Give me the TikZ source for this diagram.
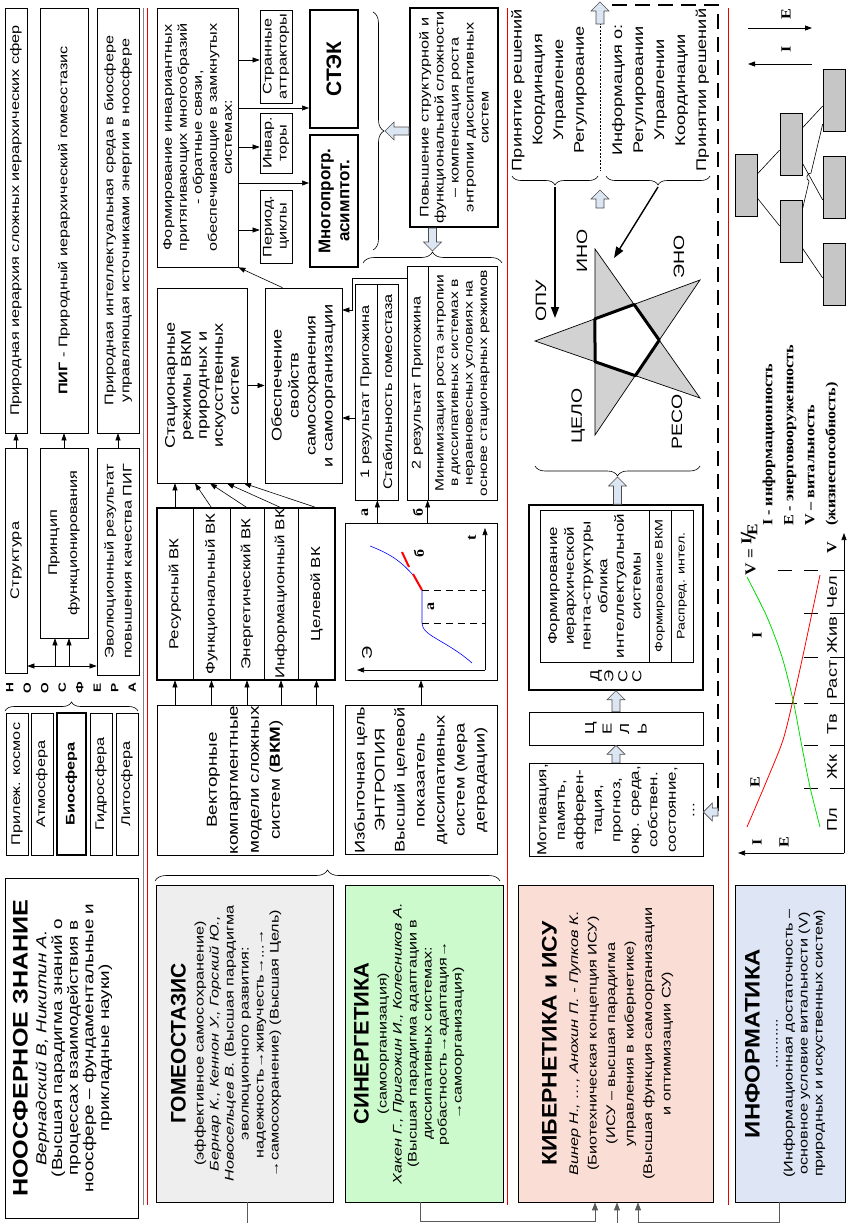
\documentclass[tikz,border=0pt]{standalone}
\usepackage{graphicx}
\usepackage{fontspec}
\setmainfont{Liberation Sans}[FakeStretch=1.3]
\newfontfamily\headfont{Liberation Sans}
\newfontfamily\timesb{Liberation Serif}[FakeStretch=1.15]
\usetikzlibrary{arrows.meta,calc,decorations.pathreplacing}
\definecolor{redline}{RGB}{235,0,0}
\definecolor{gomeofill}{RGB}{238,238,238}
\definecolor{sinfill}{RGB}{204,250,204}
\definecolor{kibfill}{RGB}{250,222,214}
\definecolor{inffill}{RGB}{222,230,245}
\definecolor{hollowfill}{RGB}{220,230,242}
\definecolor{linkgray}{RGB}{90,90,90}
\definecolor{curvegreen}{RGB}{0,220,0}
\newcommand\tbox[3]{\parbox[c][#1][t]{#2}{\centering #3}}
\newcommand\hd[2][1]{{\headfont\bfseries\fontsize{21}{24}\selectfont\scalebox{#1}[1]{#2}\par}\vspace{3pt}}
\newcommand\hollowarr[2]{%
  \path (#1) coordinate (ha-t) (#2) coordinate (ha-p);
  \path ($(ha-p)!9pt!(ha-t)$) coordinate (ha-h);
  \draw[hollow] ($(ha-t)!4pt!90:(ha-p)$) -- ($(ha-h)!4pt!-90:(ha-t)$)
    -- ($(ha-h)!9pt!-90:(ha-t)$) -- (ha-p) -- ($(ha-h)!9pt!90:(ha-t)$)
    -- ($(ha-h)!4pt!90:(ha-t)$) -- ($(ha-t)!4pt!-90:(ha-p)$) -- cycle;}

\begin{document}
\begin{tikzpicture}[x=1pt, y=-1pt, font=\fontsize{12.5}{15}\selectfont,
  box/.style={draw, rotate=90, align=center, inner sep=1pt, line width=0.7pt},
  bold box/.style={box, line width=2pt},
  sz/.style 2 args={minimum height=#1, minimum width=#2},
  txt/.style={rotate=90, align=center, inner sep=0pt},
  arr/.style={-{Triangle[length=7pt,width=5pt]}, line width=0.6pt},
  arrs/.style={{Triangle[length=7pt,width=5pt]}-{Triangle[length=7pt,width=5pt]}, line width=0.6pt},
  arrb/.style={-{Triangle[length=11pt,width=8pt]}, line width=1.4pt},
  link/.style={draw=linkgray, line width=0.8pt, -{Triangle[length=8pt,width=6pt]}},
  brc/.style={decorate, decoration={brace, amplitude=#1}, line width=0.6pt}, brc/.default=8pt,
  hollow/.style={draw=black!70, fill=hollowfill, line width=0.6pt},
  tb/.style={font=\timesb\bfseries\fontsize{14}{16}\selectfont}]
\useasboundingbox (0,0) rectangle (855,1223);

\node[box, sz={22}{425}] (a1) at (16,220.5) {Природная иерархия сложных иерархических сфер};
\node[box, sz={48}{425}] (a2) at (64,220.5) {\textbf{ПИГ} - Природный иерархический гомеостазис};
\node[box, sz={42}{425}, font=\fontsize{12.5}{16}\selectfont] (a3) at (118,220.5) {Природная интеллектуальная среда в биосфере\\управляющая источниками энергии в ноосфере};
\node[box, sz={22}{225}] (b1) at (16,560.5) {Структура};
\node[box, sz={48}{190}, font=\fontsize{12.5}{20}\selectfont] (b2) at (64,543) {Принцип\\функционирования};
\node[box, sz={42}{227}, font=\fontsize{12.5}{18}\selectfont] (b3) at (118,561.5) {Эволюционный результат\\повышения качества ПИГ};
\foreach \n in {1,2,3} \draw[arr] (b\n.east) -- (a\n.west);
\coordinate (j1) at (55,666); \coordinate (j2) at (69,666);
\draw[arrs] (b1.south |- j1) -- (b3.north |- j1);
\foreach \j in {j1,j2} \draw[arr] (\j) -- (\j |- b2.west);
\node[txt, font=\bfseries\fontsize{10.5}{17.5}\selectfont] (noolbl) at (71,688) {Н\\О\\О\\С\\Ф\\Е\\Р\\А};
\draw[brc=9pt] (5,711) -- (138,711);
\foreach \n/\xa/\xb/\t in {1/6/28/{Прилеж. космос},2/31/53/Атмосфера,4/90/112/Гидросфера,5/116/138/Литосфера}
  \node[box, sz={\xb-\xa}{142}] (s\n) at ({(\xa+\xb)/2},784) {\t};
\node[bold box, sz={29}{142}] (s3) at (71.5,784) {\textbf{Биосфера}};
\node[box, sz={133}{340}] (noos) at (71.5,1048) {\tbox{117pt}{330pt}{\fontsize{14.5}{15.7}\selectfont\hd[1.2]{НООСФЕРНОЕ ЗНАНИЕ}%
  \textit{Вернадский В, Никитин А.}\\(Высшая парадигма знаний о\\процессах взаимодействия в\\ноосфере – фундаментальные и\\прикладные науки)}};

\draw[gray, line width=0.6pt] (143.5,8) -- (143.5,1205);
\foreach \x in {147,507,728} \draw[redline, line width=1pt] (\x,8) -- (\x,1205);

\node[box, sz={81}{259}] (form) at (197.5,137.5) {Формирование инвариантных\\притягивающих многообразий\\- обратные связи,\\обеспечивающие в замкнутых\\системах:};
\node[box, sz={32}{93}] (attr) at (276,56.5) {Странные\\аттракторы};
\node[box, sz={32}{60}] (tory) at (276,143) {Инвар.\\торы};
\node[box, sz={32}{73}] (cycl) at (276,226.5) {Период.\\циклы};
\node[bold box, sz={48}{118}, font=\headfont\bfseries\fontsize{21}{24}\selectfont] (stek) at (334,69) {СТЭК};
\node[bold box, sz={48}{132}, font=\headfont\bfseries\fontsize{17}{19}\selectfont] (asym) at (334,201) {Многопрогр.\\асимптот.};
\foreach \y/\t in {60/attr,108/stek,147/tory,183/asym,230/cycl} \draw[arr] (form.south |- 0,\y) -- (\t.north |- 0,\y);
\draw[brc=11pt] (373,12) -- (373,250);
\coordinate (vtip) at (385,131);
\node[bold box, sz={88}{219}] (povysh) at (454,117.5) {Повышение структурной и\\функциональной сложности\\– компенсация роста\\энтропии диссипативных\\систем};
\hollowarr{povysh.north |- vtip}{vtip}
\draw[brc=11pt] (363,263) -- (502,263);
\coordinate (htip) at (432.5,251);
\hollowarr{povysh.west -| htip}{htip}
\node[box, sz={90}{195}, font=\fontsize{14}{16}\selectfont] (stac) at (202,385.5) {Стационарные\\режимы ВКМ\\природных и\\искусственных\\систем};
\node[box, sz={77}{195}, font=\fontsize{14}{17}\selectfont] (obesp) at (303.5,385.5) {Обеспечение\\свойств\\самосохранения\\и самоорганизации};
\draw[arr] (stac) -- (obesp);
\draw[arr] ([xshift=-21pt]obesp.east) -- (form.south west);
\node[box, sz={22}{216}] (res1a) at (366,392) {1 результат Пригожина};
\node[box, sz={21}{216}] (res1b) at (387.5,392) {Стабильность гомеостаза};
\node[box, sz={21}{234}] (res2a) at (417.5,383) {2 результат Пригожина};
\node[box, sz={69}{234}, font=\fontsize{12}{14.5}\selectfont] (res2b) at (462.5,383) {Минимизация роста энтропии\\в диссипативных системах в\\неравновесных условиях на\\основе стационарных режимов};
\draw[arr] (res1a.north |- 0,418) -- (obesp.south |- 0,418);
\draw[arr] (res2a.north |- 0,278) -| (352,310) -- (obesp.south |- 0,310);
\foreach \n/\xa/\xb/\t in {1/157/193/Ресурсный ВК,2/193/230/Функциональный ВК,3/230/264/Энергетический ВК,4/264/298/Информационный ВК,5/298/335/Целевой ВК}
  \node[box, sz={\xb-\xa}{172}, font=\fontsize{13}{15}\selectfont] (vk\n) at ({(\xa+\xb)/2},594) {\t};
\draw[line width=2pt] (vk1.north west) rectangle (vk5.south east);
\foreach \n/\x in {1/175,2/195,3/210,4/227,5/244} \draw[arr] (vk\n.east) -- (stac.west -| \x,0);
\node[box, sz={152}{157}] (plotbox) at (421,601.5) {};
\node[box, sz={176}{146}, font=\fontsize{14.5}{21}\selectfont] (vkm) at (245,780) {Векторные\\компартментные\\модели сложных\\систем (\textbf{ВКМ})};
\node[box, sz={152}{146}, font=\fontsize{14}{20}\selectfont] (entr) at (421,780) {Избыточная цель\\ЭНТРОПИЯ\\Высший целевой\\показатель\\диссипативных\\систем (мера\\деградации)};
\foreach \n in {1,...,5} \draw[arr] (vkm.east -| vk\n) -- (vk\n.west);
\draw[arr] (entr.east) -- (plotbox.west);
\draw[arr] (plotbox.east -| res1a.south) -- (res1a.west -| res1a.south);
\draw[arr] (plotbox.east -| res2b.north) -- (res2a.west -| res2b.north);
\node[txt, tb] (ara) at (365,512) {а};
\node[txt, tb] (arb) at (418,512) {б};
\coordinate (po) at (485,670);
\draw[arr] (po) -- (485,528);
\draw[arr] (po) -- (357,670);
\node[txt, tb] (axt) at (472,538) {t};
\node[txt, font=\fontsize{14}{16}\selectfont] (axe) at (367,653) {Э};
\draw[blue, line width=0.6pt] (472,663) .. controls (446,640) and (422,636) .. (422,623) -- (422,590);
\draw[blue, line width=0.6pt] (413,575) .. controls (400,560) and (388,553) .. (370,546);
\draw[red, line width=2pt] (422,590) -- (413,574) (402,552) -- (409,567);
\draw[dash pattern=on 7pt off 5pt, line width=0.6pt] (422,590) -- (485,590) (422,623) -- (485,623);
\node[txt, tb] (pa) at (431,606) {а};
\node[txt, tb] (pb) at (419,553) {б};
\draw[brc=11pt] (155,881) -- (500,881);

\node[box, fill=gomeofill, sz={177}{317}] (gomeo) at (244.5,1043.5) {\tbox{147pt}{307pt}{\hd{ГОМЕОСТАЗИС}(эффективное самосохранение)\\\textit{Бернар К., Кеннон У., Горский Ю.,}\\\textit{Новосельцев В.} (Высшая парадигма\\эволюционного развития:\\надежность→живучесть→...→\\→самосохранение) (Высшая Цель)}};
\node[box, fill=sinfill, sz={158}{317}] (sinerg) at (424,1043.5) {\tbox{140pt}{300pt}{\fontsize{12.4}{15}\selectfont\hd[1.04]{СИНЕРГЕТИКА}(самоорганизация)\\\textit{Хакен Г., Пригожин И., Колесников А.}\\(Высшая парадигма адаптации в\\диссипативных системах:\\робастность→адаптация→\\→самоорганизация)}};
\node[box, fill=kibfill, sz={195}{317}] (kiber) at (615.5,1043.5) {\tbox{147pt}{307pt}{\fontsize{12.5}{18.5}\selectfont\hd[1.09]{КИБЕРНЕТИКА и ИСУ}\textit{Винер Н., …, Анохин П. - Пупков К.}\\(Биотехническая концепция ИСУ)\\(ИСУ – высшая парадигма\\управления в кибернетике)\\(Высшая функция самоорганизации\\и оптимизации СУ)}};
\node[box, fill=inffill, sz={110}{317}] (inform) at (790,1043.5) {\tbox{90pt}{307pt}{\hd[1.14]{ИНФОРМАТИКА}...........\\(Информационная достаточность –\\основное условие витальности (V)\\природных и искуственных систем)}};
\draw[link] (sinerg.west -| 420,0) |- (595,1221) -- (kiber.west -| 595,0);
\draw[link] (gomeo.west -| 247,0) |- (617,1230) -- (kiber.west -| 617,0);
\draw[link] (inform.west -| 779,0) |- (638,1222) -- (kiber.west -| 638,0);

\node[txt, font=\fontsize{14}{20.7}\selectfont] (dec1) at (549,90) {Принятие решений\\Координация\\Управление\\Регулирование};
\node[txt, font=\fontsize{14}{21}\selectfont] (dec2) at (660.5,90) {Информация о:\\Регулировании\\Управлении\\Координации\\Принятии решений};
\draw[dash pattern=on 2pt off 1.5pt, line width=0.5pt] (600,16) -- (600,171);
\coordinate (toparr) at (600,2);
\hollowarr{600,24}{toparr}
\draw[brc=9pt] (598,176) -- (512,176);
\draw[brc=9pt] (710,176) -- (606,176);
\coordinate (bl) at (555,187); \coordinate (br) at (658,187);
\coordinate (opuin) at (555,318); \coordinate (inoin) at (614,258);
\draw[arrb] (bl) -- (opuin);
\draw[arrb] (br) -- (inoin);
\coordinate (midarr) at (600,190);
\hollowarr{600,208}{midarr}
\coordinate (opu) at (535,341); \coordinate (ino) at (595,249); \coordinate (eno) at (700,280);
\coordinate (reso) at (700,398); \coordinate (celo) at (595,435);
\filldraw[fill=gray!35, even odd rule, line width=0.7pt] (opu) -- (eno) -- (celo) -- (ino) -- (reso) -- cycle;
\draw[line width=3pt, line join=round] (intersection of opu--eno and ino--celo) -- (intersection of opu--eno and ino--reso) -- (intersection of ino--reso and eno--celo) -- (intersection of eno--celo and opu--reso) -- (intersection of opu--reso and ino--celo) -- cycle;
\foreach \n/\x/\y/\t in {opu/541/301/ОПУ,ino/582/251/ИНО,eno/679/257/ЭНО,reso/677/422/РЕСО,celo/578/416/ЦЕЛО}
  \node[txt, font=\fontsize{15}{18}\selectfont] (l\n) at (\x,\y) {\t};
\draw[brc=10pt] (700,466) -- (535,466);
\coordinate (sbt) at (617.5,477);
\node[box, line width=1.5pt, sz={174}{185}] (dess) at (616,597.5) {};
\hollowarr{dess.east -| sbt}{sbt}
\node[box, sz={109}{152}, font=\fontsize{13}{16.7}\selectfont] (dform) at (594.5,586) {Формирование\\иерархической\\пента-структуры\\облика\\интеллектуальной\\системы};
\node[box, sz={22}{152}, font=\fontsize{11}{13}\selectfont] (dvkm) at (660,586) {Формирование ВКМ};
\node[box, sz={22}{152}, font=\fontsize{11}{13}\selectfont] (dint) at (682,586) {Распред. интел.};
\node[txt, font=\fontsize{13}{14}\selectfont] (dlbl) at (616,676) {Д\\Э\\С\\С};
\node[box, sz={174}{33}, font=\fontsize{13}{17.5}\selectfont] (cel) at (616,728.5) {Ц\\Е\\Л\\Ь};
\node[box, sz={174}{86}, font=\fontsize{13}{18.5}\selectfont] (motiv) at (616,810) {Мотивация,\\память,\\афферен-\\тация,\\прогноз,\\окр. среда,\\собствен.\\состояние,\\...};
\hollowarr{motiv.east}{cel.west}
\hollowarr{cel.east}{dess.west}
\draw[line width=1.4pt, dash pattern=on 15pt off 8pt] (612,5) -- (718,5) -- (718,812) coordinate (dashend);
\hollowarr{dashend}{motiv.south |- dashend}

\coordinate (ea) at (748,28); \coordinate (eb) at (812,28);
\coordinate (ia) at (812,64); \coordinate (ib) at (748,64);
\draw[arr, line width=0.8pt] (ea) -- (eb);
\draw[arr, line width=0.8pt] (ia) -- (ib);
\node[txt, tb] (lbe) at (786,14) {E};
\node[txt, tb] (lbi) at (786,49) {I};
\foreach \n/\x/\y in {r/746/185.5,a/791/144,b/791/231.5,c/834/100,d/834/187.5,e/834/274.5}
  \node[draw, fill=gray!45, rotate=90, sz={22}{62}, line width=0.6pt] (t\n) at (\x,\y) {};
\draw[line width=0.6pt] (tr.south |- 0,174) -- (ta.north |- 0,150)
  (tr.south |- 0,198) -- (tb.north |- 0,226)
  (ta.south |- 0,128) -- (tc.north |- 0,106)
  (ta.south |- 0,163) -- (td.north |- 0,200)
  (tb.south |- 0,248) -- (te.north |- 0,278);
\draw[line width=0.6pt] (tb.south |- 0,210) -- (809.05,181) .. controls (805,179.5) and (807,172) .. (810.95,173.2) -- (tc.north |- 0,124);
\node[txt, anchor=west, align=left, font=\timesb\bfseries\fontsize{14}{21}\selectfont] (legend) at (800.5,526) {I - информационность\\E - энерговооруженность\\V – витальность\\(жизнеспособность)};
\node[txt, font=\timesb\bfseries\fontsize{15}{16}\selectfont] (vform) at (749,550) {V = \raisebox{4pt}{I}\kern-2pt{\fontsize{22}{22}\selectfont/}\kern-3pt\raisebox{-2pt}{E}};
\coordinate (go) at (844,853);
\draw[arr, line width=0.7pt] (go) -- (844,533);
\draw[arr, line width=0.7pt] (go) -- (738,853);
\node[txt, tb] (gv) at (832,548) {V};
\node[txt, tb] (gi) at (757,842) {I};
\node[txt, tb] (ge) at (784,842) {E};
\foreach \y in {788,745,703,657,613} \draw[dash pattern=on 14pt off 12pt, line width=0.6pt] (844,\y) -- (802,\y);
\draw[dash pattern=on 14pt off 12pt, line width=0.6pt] (844,570) -- (778,570);
\draw[line width=0.6pt] (775,703) -- (797,703);
\foreach \y/\t [count=\i] in {820/Пл,767/Жк,724/Тв,680/Раст,635/Жив,592/Чел}
  \node[txt, font=\fontsize{14}{16}\selectfont] (cat\i) at (832,\y) {\t};
\draw[red, line width=0.8pt] plot[smooth] coordinates {(747,827) (767,780) (783,740) (793,700) (802,660) (812,613) (820,575)};
\draw[curvegreen, line width=0.8pt] plot[smooth] coordinates {(820,827) (810,787) (802,747) (793,700) (782,657) (767,617) (747,577)};
\node[txt, tb] (ce) at (755,782) {E};
\node[txt, tb] (ci) at (757,635) {I};
\end{tikzpicture}
\end{document}
